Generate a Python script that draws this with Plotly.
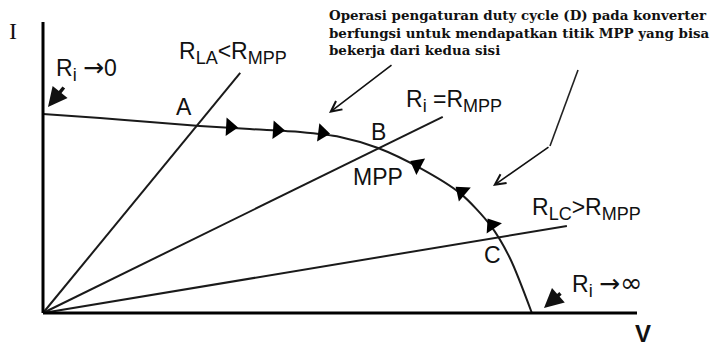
import plotly.graph_objects as go

W, H = 712, 347

# ---- data (normalised units: V and I from 0 to 100 along the drawn axes) ----
curve_v = [0, 9.6, 18.0, 26.4, 34.8, 43.3, 50.0, 56.4, 63.5, 70.2, 75.3, 78.6, 82.3]
curve_i = [68.4, 67.0, 65.6, 64.3, 63.2, 62.2, 60.5, 56.7, 49.8, 41.2, 30.2, 18.9, 0]

load_names = ["R_LA", "R_MPP", "R_LC"]
load_end_v = [33.2, 67.3, 88.2]
load_end_i = [82.5, 67.4, 29.9]

flow_v = [31.5, 39.4, 47.0, 63.0, 70.5, 75.6]
flow_i = [63.9, 62.9, 61.9, 50.9, 41.6, 30.2]
flow_angle = [93, 94, 97, -62, -50, -34]

axis_len_v = 100
axis_len_i = 100

# pixel mapping of plot frame
X0, Y0 = 43, 313          # origin in px
SX, SY = 5.94, 2.91       # px per unit

fig = go.Figure()

for v_end, i_end, nm in zip(load_end_v, load_end_i, load_names):
    fig.add_trace(go.Scatter(x=[0, v_end], y=[0, i_end], mode="lines",
                             line=dict(color="#1a1a1a", width=2), name=nm,
                             hoverinfo="skip"))

fig.add_trace(go.Scatter(x=curve_v, y=curve_i, mode="lines",
                         line=dict(color="#1a1a1a", width=2, shape="spline", smoothing=0.8),
                         name="I-V", hoverinfo="skip"))

fig.add_trace(go.Scatter(x=flow_v, y=flow_i, mode="markers",
                         marker=dict(symbol="triangle-up", size=16, color="#000",
                                     angle=flow_angle, line=dict(width=0)),
                         name="flow", hoverinfo="skip"))

# axes
fig.add_shape(type="line", x0=0, y0=0, x1=axis_len_v, y1=0, xref="x", yref="y",
              line=dict(color="#000", width=3))
fig.add_shape(type="line", x0=0, y0=0, x1=0, y1=axis_len_i, xref="x", yref="y",
              line=dict(color="#000", width=3))

def P(px, py):
    return ((px - X0) / SX, (Y0 - py) / SY)

# wavy pointer first segment
a = P(578, 70)
b = P(550, 146)
fig.add_shape(type="line", x0=a[0], y0=a[1], x1=b[0], y1=b[1], xref="x", yref="y",
              line=dict(color="#222", width=1.6))

def px_to_paper(px, py):
    return px / W, 1 - py / H

SANS = "Liberation Sans, Arial, sans-serif"
SERIF = "DejaVu Serif, serif"

def label(text, px, py, size=22, family=SANS, xanchor="center", yanchor="middle", color="#111"):
    x, y = px_to_paper(px, py)
    fig.add_annotation(x=x, y=y, xref="paper", yref="paper", text=text, showarrow=False,
                       xanchor=xanchor, yanchor=yanchor,
                       font=dict(family=family, size=size, color=color))

def pointer(tip, tail, width=1.6, head=5, size=1.0):
    x, y = px_to_paper(*tip)
    fig.add_annotation(x=x, y=y, xref="paper", yref="paper", text="",
                       showarrow=True, ax=tail[0] - tip[0], ay=tail[1] - tip[1],
                       arrowhead=head, arrowwidth=width, arrowsize=size, arrowcolor="#111")

def sub(t):
    return "<sub><span style='font-size:18px'>" + t + "</span></sub>"

ARROW = "<span style='font-family:DejaVu Sans;font-size:25px'>\u2192</span>"
INF = "<span style='font-family:DejaVu Sans;font-size:27px'>\u221e</span>"

label("I", 13, 31, size=24, family="Liberation Serif, serif")
label("<b>V</b>", 643, 333, size=24)
label("R" + sub("i") + " " + ARROW + "0", 54, 69, size=23, xanchor="left")
label("R" + sub("LA") + "<R" + sub("MPP"), 177, 53, size=23, xanchor="left")
label("A", 184, 107, size=23)
label("B", 378, 132, size=23)
label("MPP", 378, 177, size=23)
label("R" + sub("i") + " =R" + sub("MPP"), 404, 101, size=23, xanchor="left")
label("R" + sub("LC") + ">R" + sub("MPP"), 530, 209, size=23, xanchor="left")
label("C", 492, 255, size=23)
label("R" + sub("i") + " " + ARROW + INF, 570, 284, size=23, xanchor="left")

label("<b>Operasi pengaturan duty cycle (D) pada konverter</b>", 327, 15, size=13.4, family=SERIF, xanchor="left")
label("<b>berfungsi untuk mendapatkan titik MPP yang bisa</b>", 327, 33, size=13.4, family=SERIF, xanchor="left")
label("<b>bekerja dari kedua sisi</b>", 327, 50, size=13.4, family=SERIF, xanchor="left")

pointer((48, 107), (65, 86), width=3.5, head=2, size=1.1)
pointer((544, 308), (562, 292), width=3.5, head=2, size=1.1)
pointer((329, 113), (393, 64), width=1.6, head=5, size=1.3)
pointer((493, 186), (550, 146), width=1.6, head=5, size=1.3)

fig.update_layout(
    width=W, height=H, margin=dict(l=0, r=0, t=0, b=0),
    paper_bgcolor="white", plot_bgcolor="white", showlegend=False,
    xaxis=dict(range=[-X0 / SX, (W - X0) / SX], visible=False, fixedrange=True),
    yaxis=dict(range=[-(H - Y0) / SY, Y0 / SY], visible=False, fixedrange=True),
)

fig.write_html("out.html", config={"displayModeBar": False},
               post_script="document.body.style.margin='0';document.body.style.overflow='hidden';")
